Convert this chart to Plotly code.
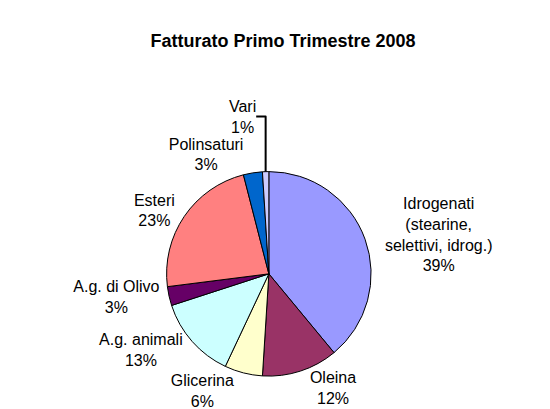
import plotly.graph_objects as go

categories = ["Idrogenati<br>(stearine,<br>selettivi, idrog.)", "Oleina", "Glicerina",
              "A.g. animali", "A.g. di Olivo", "Esteri", "Polinsaturi", "Vari"]
values = [39, 12, 6, 13, 3, 23, 3, 1]
colors = ["#9999FF", "#993366", "#FFFFCC", "#CCFFFF", "#660066", "#FF8080", "#0066CC", "#CCCCFF"]

fig = go.Figure(go.Pie(
    labels=categories,
    values=values,
    sort=False,
    direction="clockwise",
    rotation=0,
    marker=dict(colors=colors, line=dict(color="black", width=1)),
    texttemplate="%{label}<br>%{value}%",
    textposition="outside",
    textfont=dict(family="Liberation Sans, Arial", size=16, color="black"),
    hoverinfo="label+value",
    showlegend=False,
    domain=dict(x=[0.25, 0.9], y=[0.1, 0.6]),
))

fig.update_layout(
    width=550, height=409,
    margin=dict(l=0, r=0, t=0, b=0),
    paper_bgcolor="white",
    plot_bgcolor="white",
    title=dict(text="<b>Fatturato Primo Trimestre 2008</b>", x=0.5, xanchor="center",
               y=1 - 33 / 409, yanchor="middle",
               font=dict(family="Liberation Sans, Arial", size=18, color="black")),
)

fig.write_html("out.html")
